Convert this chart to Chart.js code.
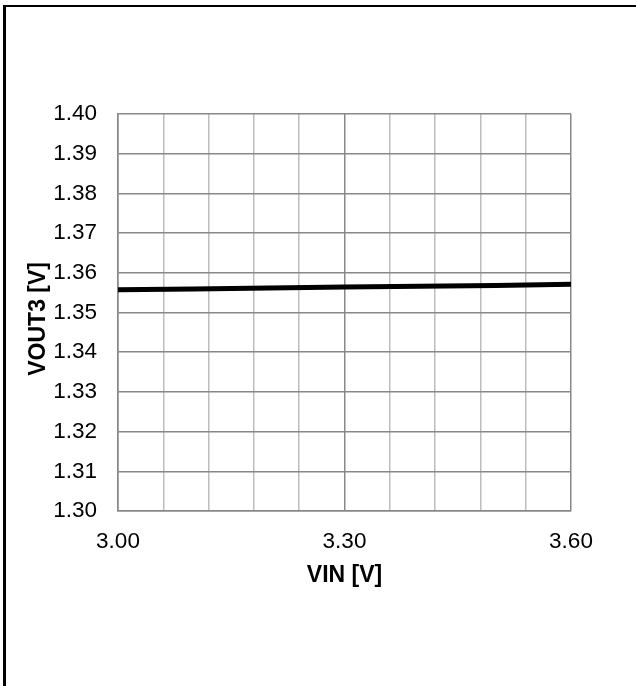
<!DOCTYPE html>
<html>
<head>
<meta charset="utf-8">
<script src="https://cdn.jsdelivr.net/npm/chart.js@4.4.1/dist/chart.umd.min.js"></script>
<style>
  html, body { margin: 0; padding: 0; background: #fff; }
  #wrap { position: relative; width: 636px; height: 686px; overflow: hidden; }
  #frame {
    position: absolute; left: 3px; top: 5px; right: -10px; bottom: -10px;
    border-left: 3px solid #000; border-top: 2px solid #000;
    pointer-events: none;
  }
</style>
</head>
<body>
<div id="wrap">
  <canvas id="grafico" width="636" height="686"></canvas>
  <div id="frame"></div>
</div>
<script>
// Dados
const vin = [3.00, 3.10, 3.20, 3.30, 3.40, 3.50, 3.60];
const vout3 = [1.3557, 1.3559, 1.3562, 1.3564, 1.3566, 1.3568, 1.3571];

// Linhas de grade e rótulos dos eixos
const xGrade = [3.00, 3.06, 3.12, 3.18, 3.24, 3.30, 3.36, 3.42, 3.48, 3.54, 3.60];
const xRotulos = ['3.00', '3.30', '3.60'];
const yGrade = [1.30, 1.31, 1.32, 1.33, 1.34, 1.35, 1.36, 1.37, 1.38, 1.39, 1.40];

const fonte = 'Liberation Sans, Arial, sans-serif';
const cinzaEscuro = '#888888';
const cinzaClaro = '#bdbdbd';

function temRotulo(v) {
  return xRotulos.some(r => Math.abs(parseFloat(r) - v) < 1e-6);
}

const ctx = document.getElementById('grafico');

new Chart(ctx, {
  type: 'line',
  data: {
    datasets: [{
      label: 'VOUT3',
      data: vin.map((x, i) => ({ x: x, y: vout3[i] })),
      borderColor: '#000',
      borderWidth: 5,
      pointRadius: 0,
      fill: false,
      tension: 0
    }]
  },
  options: {
    responsive: false,
    animation: false,
    devicePixelRatio: 1,
    layout: { padding: { left: 0, right: 65, top: 114, bottom: 97 } },
    plugins: {
      legend: { display: false },
      tooltip: { enabled: false }
    },
    scales: {
      x: {
        type: 'linear',
        min: 3.00,
        max: 3.60,
        afterBuildTicks: function(scale) {
          scale.ticks = xGrade.map(v => ({ value: v }));
        },
        afterFit: function(scale) { scale.height = 78; },
        ticks: {
          autoSkip: false,
          maxRotation: 0,
          padding: 17,
          color: '#000',
          font: { family: fonte, size: 22.5 },
          callback: function(value) {
            return temRotulo(value) ? value.toFixed(2) : '';
          }
        },
        grid: {
          drawTicks: false,
          lineWidth: 1.5,
          color: function(c) {
            return c.tick && temRotulo(c.tick.value) ? cinzaEscuro : cinzaClaro;
          }
        },
        border: { color: cinzaEscuro, width: 1.5 },
        title: {
          display: true,
          text: 'VIN [V]',
          color: '#000',
          padding: 0,
          font: { family: fonte, size: 23, weight: 'bold' }
        }
      },
      y: {
        type: 'linear',
        min: 1.30,
        max: 1.40,
        afterBuildTicks: function(scale) {
          scale.ticks = yGrade.map(v => ({ value: v }));
        },
        afterFit: function(scale) { scale.width = 118; },
        ticks: {
          autoSkip: false,
          padding: 21,
          color: '#000',
          font: { family: fonte, size: 22.5 },
          callback: function(value) { return value.toFixed(2); }
        },
        grid: {
          drawTicks: false,
          lineWidth: 1.5,
          color: cinzaEscuro
        },
        border: { color: cinzaEscuro, width: 1.5 },
        title: {
          display: true,
          text: 'VOUT3 [V]  ',
          color: '#000',
          padding: { top: 25, bottom: 0 },
          font: { family: fonte, size: 23, weight: 'bold' }
        }
      }
    }
  }
});
</script>
</body>
</html>
